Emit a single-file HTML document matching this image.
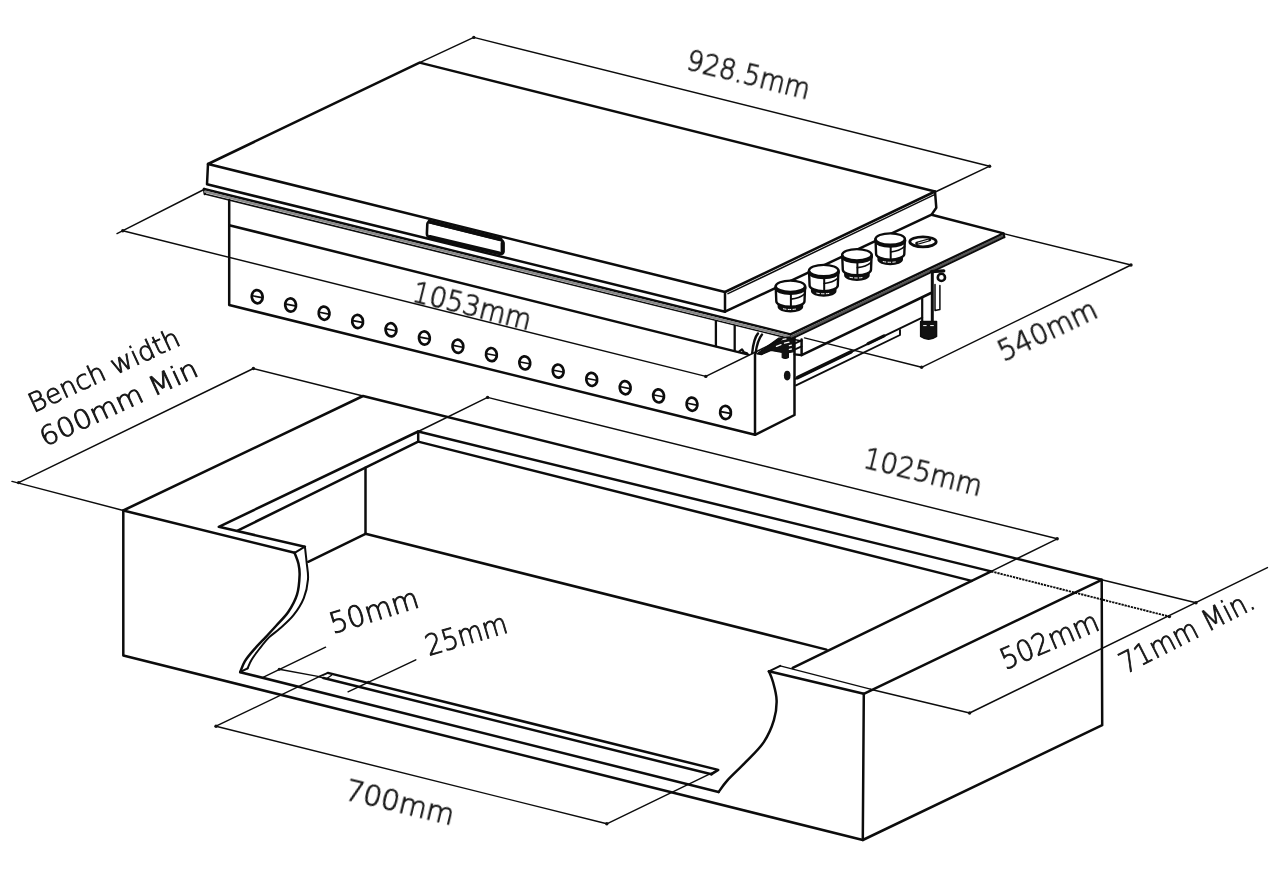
<!DOCTYPE html>
<html lang="en">
<head>
<meta charset="utf-8">
<title>Installation dimensions</title>
<style>
html,body{margin:0;padding:0;background:#fff;}
body{width:1280px;height:877px;overflow:hidden;}
svg{display:block;}
.ln path,.ln ellipse,.ln circle{fill:none;stroke:#0c0c0c;stroke-linecap:round;stroke-linejoin:round;}
.tx text{font-family:"DejaVu Sans Light","DejaVu Sans","Liberation Sans",sans-serif;font-weight:200;fill:#151515;stroke:#151515;stroke-width:0.9px;}
.tx{opacity:0.999;}
</style>
</head>
<body>
<svg width="1280" height="877" viewBox="0 0 1280 877">
<rect width="1280" height="877" fill="#fff"/>
<g class="ln">
<path d="M208.0 164.0 L419.6 62.6 L935.0 191.5 L725.0 292.0 Z" stroke-width="2.5" />
<path d="M208.0 164.0 L207.0 184.3 L725.0 311.7 L725.0 292.0" stroke-width="2.5" />
<path d="M725.0 311.7 L931.6 214.6 L936.3 207.8 L935.0 191.5" stroke-width="2.5" />
<path d="M728.0 293.6 L934.0 194.9" stroke-width="1.5" />
<path d="M204.0 189.0 L790.5 334.4" stroke-width="2.5" />
<path d="M204.8 194.0 L790.5 338.8" stroke-width="1.6" />
<path d="M204.0 189.0 L204.8 194.0" stroke-width="2.5" />
<path d="M205.0 191.6 L790.0 336.7" stroke-width="2.4" style="stroke:#8a8a8a"/>
<path d="M229.2 200.0 L229.2 305.0 L755.0 434.8 L755.0 354.5" stroke-width="2.5" />
<path d="M229.2 225.2 L748.4 354.6" stroke-width="2.5" />
<path d="M755.0 434.8 L794.5 415.0 L794.5 336.0" stroke-width="2.5" />
<path d="M715.9 321.5 L715.9 346.0" stroke-width="2.3" />
<path d="M734.7 326.0 L734.7 350.6" stroke-width="2.3" />
<path d="M739 351.6 L742 349.4 L744 352.4 L747 353.4" stroke-width="2.2"/>
<path d="M752.2 353 C753 345 754.5 337.5 758 333.4" stroke-width="2.4" />
<path d="M755.6 353.4 C756.6 346 758.4 339 762 334.6" stroke-width="2.4" />
<path d="M757 353.8 L778.5 338.2 L794 336.6 L794 351.6 L788.4 352.6 L788.4 357.6 Q785.3 359.4 782.2 357.6 L782.2 352.4 L771 350.4 L761.5 354.6 Z" style="fill:#111" stroke-width="1.2"/>
<path d="M781.5 339.6 L786 338.8 M784.5 343.2 L789 342.2 M776.5 346.4 L781 344.6 M789.4 345.6 L791.4 345.2 M789.4 349.4 L791.4 349.0" style="stroke:#fff" stroke-width="1.3"/>
<path d="M794.5 343.6 L801.6 340.4" stroke-width="1.8" />
<path d="M794.5 349.6 L801.6 346.4" stroke-width="1.8" />
<ellipse cx="787.2" cy="375.6" rx="3.3" ry="4.8" style="fill:#111;stroke:none"/>
<ellipse cx="257.2" cy="296.7" rx="5.4" ry="6.6" stroke-width="2.7" transform="rotate(-8 257.2 296.7)"/>
<path d="M252.6 295.8 L261.8 297.6" stroke-width="1.6" />
<ellipse cx="290.6" cy="305.0" rx="5.4" ry="6.6" stroke-width="2.7" transform="rotate(-8 290.6 305.0)"/>
<path d="M286.0 304.1 L295.2 305.9" stroke-width="1.6" />
<ellipse cx="324.1" cy="313.2" rx="5.4" ry="6.6" stroke-width="2.7" transform="rotate(-8 324.1 313.2)"/>
<path d="M319.5 312.3 L328.7 314.1" stroke-width="1.6" />
<ellipse cx="357.6" cy="321.5" rx="5.4" ry="6.6" stroke-width="2.7" transform="rotate(-8 357.6 321.5)"/>
<path d="M352.9 320.6 L362.2 322.4" stroke-width="1.6" />
<ellipse cx="391.0" cy="329.8" rx="5.4" ry="6.6" stroke-width="2.7" transform="rotate(-8 391.0 329.8)"/>
<path d="M386.4 328.9 L395.6 330.7" stroke-width="1.6" />
<ellipse cx="424.4" cy="338.0" rx="5.4" ry="6.6" stroke-width="2.7" transform="rotate(-8 424.4 338.0)"/>
<path d="M419.8 337.1 L429.1 338.9" stroke-width="1.6" />
<ellipse cx="457.9" cy="346.3" rx="5.4" ry="6.6" stroke-width="2.7" transform="rotate(-8 457.9 346.3)"/>
<path d="M453.3 345.4 L462.5 347.2" stroke-width="1.6" />
<ellipse cx="491.4" cy="354.6" rx="5.4" ry="6.6" stroke-width="2.7" transform="rotate(-8 491.4 354.6)"/>
<path d="M486.8 353.7 L496.0 355.5" stroke-width="1.6" />
<ellipse cx="524.8" cy="362.9" rx="5.4" ry="6.6" stroke-width="2.7" transform="rotate(-8 524.8 362.9)"/>
<path d="M520.2 362.0 L529.4 363.8" stroke-width="1.6" />
<ellipse cx="558.2" cy="371.1" rx="5.4" ry="6.6" stroke-width="2.7" transform="rotate(-8 558.2 371.1)"/>
<path d="M553.6 370.2 L562.9 372.0" stroke-width="1.6" />
<ellipse cx="591.7" cy="379.4" rx="5.4" ry="6.6" stroke-width="2.7" transform="rotate(-8 591.7 379.4)"/>
<path d="M587.1 378.5 L596.3 380.3" stroke-width="1.6" />
<ellipse cx="625.2" cy="387.7" rx="5.4" ry="6.6" stroke-width="2.7" transform="rotate(-8 625.2 387.7)"/>
<path d="M620.6 386.8 L629.8 388.6" stroke-width="1.6" />
<ellipse cx="658.6" cy="395.9" rx="5.4" ry="6.6" stroke-width="2.7" transform="rotate(-8 658.6 395.9)"/>
<path d="M654.0 395.0 L663.2 396.8" stroke-width="1.6" />
<ellipse cx="692.0" cy="404.2" rx="5.4" ry="6.6" stroke-width="2.7" transform="rotate(-8 692.0 404.2)"/>
<path d="M687.4 403.3 L696.6 405.1" stroke-width="1.6" />
<ellipse cx="725.5" cy="412.5" rx="5.4" ry="6.6" stroke-width="2.7" transform="rotate(-8 725.5 412.5)"/>
<path d="M720.9 411.6 L730.1 413.4" stroke-width="1.6" />
<path d="M429.8 222.2 L500.4 239.7 Q503.4 240.5 503.4 243.6 L503.4 251.2 Q503.4 254.6 500.2 253.8 L429.6 237.2 Q426.8 236.6 426.9 233.6 L427.3 224.2 Q427.4 221.6 429.8 222.2 Z" stroke-width="2.6" fill="#fff"/>
<path d="M429.5 221.6 L500.5 239.2" stroke-width="4.0" />
<path d="M430.0 236.8 L499.5 253.2" stroke-width="3.6" />
<path d="M502.6 243.0 L502.6 251.6" stroke-width="4.0" />
<path d="M931.6 214.8 L1003.6 233.4 L790.5 334.4" stroke-width="2.5" />
<path d="M1004.0 235.4 L791.6 336.6" stroke-width="2.4" style="stroke:#555"/>
<path d="M1004.4 237.2 L792.4 338.4" stroke-width="1.9" />
<path d="M1003.6 233.4 L1004.4 237.2" stroke-width="1.9" />
<path d="M801.6 339.5 L801.6 355.2 L931.0 293.0" stroke-width="2.5" />
<path d="M790.5 338.8 L801.6 341.0" stroke-width="1.5" />
<path d="M794.5 354.4 L801.6 355.2" stroke-width="2.2" />
<path d="M795.5 378.8 L922.2 317.6" stroke-width="1.9" />
<path d="M796.0 385.4 L900.0 335.0 L900.0 330.0" stroke-width="1.9" />
<path d="M797.5 377.6 L851.0 351.8" stroke-width="3.6" />
<path d="M868.0 343.6 L884.0 335.9" stroke-width="3.2" />
<path d="M922.2 298.0 L922.2 321.5" stroke-width="2.2" />
<path d="M932.3 272.5 L932.3 322.0" stroke-width="3.0" />
<path d="M935.0 284.5 L935.0 310.6 L939.9 309.4 L939.9 285.5" stroke-width="1.5" />
<path d="M931.5 271.6 L943.8 270.8" stroke-width="3.2"/>
<circle cx="941.4" cy="277.4" r="3.6" stroke-width="2.6"/>
<path d="M920.6 321.5 L936.6 321.5 L936.6 336.4 Q928.6 342 920.6 336.4 Z" style="fill:#111" stroke-width="1.4"/>
<path d="M923.6 325.6 L926.2 325.6 M930.6 325.6 L933.4 325.6" style="stroke:#fff" stroke-width="1.0"/>
<path d="M778.4 302.2 L778.4 306.8 A12 4.8 0 0 0 802.4 306.8 L802.4 302.2 Z" style="fill:#111" stroke-width="1.6"/>
<path d="M783.4 308.8 Q790.4 310.2 797.4 308.8" style="stroke:#fff" stroke-width="1.0" stroke-dasharray="2.6 2.2"/>
<path d="M775.7 286.2 L776.3 301.2 A14.1 5.6 0 0 0 804.5 301.2 L805.1 286.2 Z" style="fill:#fff" stroke-width="2.4"/>
<ellipse cx="790.4" cy="286.2" rx="14.7" ry="5.6" style="fill:#fff" stroke-width="2.3"/>
<path d="M775.7 287.8 A14.7 5.6 0 0 0 805.1 287.8" stroke-width="3.0"/>
<path d="M790.9 294.3 L790.9 306.0" stroke-width="2.0" />
<path d="M790.9 299.2 Q799.4 298.2 804.7 293.8" stroke-width="1.7"/>
<path d="M811.7 286.5 L811.7 291.1 A12 4.8 0 0 0 835.7 291.1 L835.7 286.5 Z" style="fill:#111" stroke-width="1.6"/>
<path d="M816.7 293.1 Q823.7 294.5 830.7 293.1" style="stroke:#fff" stroke-width="1.0" stroke-dasharray="2.6 2.2"/>
<path d="M809.0 270.5 L809.6 285.5 A14.1 5.6 0 0 0 837.8 285.5 L838.4 270.5 Z" style="fill:#fff" stroke-width="2.4"/>
<ellipse cx="823.7" cy="270.5" rx="14.7" ry="5.6" style="fill:#fff" stroke-width="2.3"/>
<path d="M809.0 272.1 A14.7 5.6 0 0 0 838.4 272.1" stroke-width="3.0"/>
<path d="M824.2 278.6 L824.2 290.3" stroke-width="2.0" />
<path d="M824.2 283.5 Q832.7 282.5 838.0 278.1" stroke-width="1.7"/>
<path d="M844.9 270.7 L844.9 275.3 A12 4.8 0 0 0 868.9 275.3 L868.9 270.7 Z" style="fill:#111" stroke-width="1.6"/>
<path d="M849.9 277.3 Q856.9 278.7 863.9 277.3" style="stroke:#fff" stroke-width="1.0" stroke-dasharray="2.6 2.2"/>
<path d="M842.2 254.7 L842.8 269.7 A14.1 5.6 0 0 0 871.0 269.7 L871.6 254.7 Z" style="fill:#fff" stroke-width="2.4"/>
<ellipse cx="856.9" cy="254.7" rx="14.7" ry="5.6" style="fill:#fff" stroke-width="2.3"/>
<path d="M842.2 256.3 A14.7 5.6 0 0 0 871.6 256.3" stroke-width="3.0"/>
<path d="M857.4 262.8 L857.4 274.5" stroke-width="2.0" />
<path d="M857.4 267.7 Q865.9 266.7 871.2 262.3" stroke-width="1.7"/>
<path d="M878.2 255.0 L878.2 259.6 A12 4.8 0 0 0 902.2 259.6 L902.2 255.0 Z" style="fill:#111" stroke-width="1.6"/>
<path d="M883.2 261.6 Q890.2 263.0 897.2 261.6" style="stroke:#fff" stroke-width="1.0" stroke-dasharray="2.6 2.2"/>
<path d="M875.5 239.0 L876.1 254.0 A14.1 5.6 0 0 0 904.3 254.0 L904.9 239.0 Z" style="fill:#fff" stroke-width="2.4"/>
<ellipse cx="890.2" cy="239.0" rx="14.7" ry="5.6" style="fill:#fff" stroke-width="2.3"/>
<path d="M875.5 240.6 A14.7 5.6 0 0 0 904.9 240.6" stroke-width="3.0"/>
<path d="M890.7 247.1 L890.7 258.8" stroke-width="2.0" />
<path d="M890.7 252.0 Q899.2 251.0 904.5 246.6" stroke-width="1.7"/>
<ellipse cx="923" cy="241.8" rx="13.2" ry="5.0" stroke-width="2.8"/>
<path d="M916.8 243.4 L929.6 239.8" stroke-width="3.2" />
<path d="M918.2 243.0 L928.2 240.2" style="stroke:#fff" stroke-width="0.9"/>
<path d="M294.6 552.8 L123.3 510.5 L363.0 396.0 L1101.7 579.8 L863.8 693.8 L768.9 671.3" stroke-width="2.5" />
<path d="M123.3 510.5 L123.3 655.5 L862.8 840.0 L1102.2 725.2 L1101.7 579.8" stroke-width="2.5" />
<path d="M863.8 693.8 L862.8 840.0" stroke-width="2.5" />
<path d="M304.9 546.7 L218.8 526.8 L418.2 431.5 L991.2 571.4 L792.7 667.9" stroke-width="2.5" />
<path d="M237.6 530.6 L418.2 441.6 L971.6 580.9" stroke-width="2.5" />
<path d="M418.2 431.5 L418.2 441.6" stroke-width="2.5" />
<path d="M365.5 467.8 L365.5 533.8" stroke-width="2.5" />
<path d="M308.2 561.8 L365.5 533.8 L826.5 649.6" stroke-width="2.5" />
<path d="M294.6 552.8 C295.2 554.6 297.6 559.8 298.4 563.5 C299.2 567.2 299.8 569.8 299.6 575.0 C299.4 580.2 298.9 588.6 297.0 594.7 C295.1 600.8 291.8 606.7 288.4 611.8 C285.0 616.9 280.1 621.4 276.4 625.5 C272.7 629.6 269.9 632.6 266.2 636.6 C262.5 640.6 257.8 645.3 254.2 649.4 C250.6 653.5 247.1 657.6 244.8 661.4 C242.5 665.2 241.0 670.2 240.2 672.0" stroke-width="2.5" />
<path d="M304.9 546.7 C305.2 549.3 306.1 556.8 306.6 562.2 C307.1 567.6 308.5 573.3 308.0 579.3 C307.5 585.3 306.2 592.1 303.8 598.1 C301.4 604.1 297.5 610.1 293.5 615.2 C289.5 620.3 283.9 624.9 279.8 628.6 C275.7 632.3 272.4 634.0 269.0 637.4 C265.6 640.8 262.2 645.3 259.3 649.0 C256.4 652.7 253.6 656.5 251.6 659.7 C249.6 662.9 248.3 667.0 247.6 668.4" stroke-width="2.0" />
<path d="M294.6 552.8 L304.9 546.7" stroke-width="2.0" />
<path d="M240.2 672.0 L247.6 668.4" stroke-width="2.0" />
<path d="M240.2 672.2 L718.6 792.0" stroke-width="2.5" />
<path d="M718.6 792.0 C720.1 790.1 722.9 785.4 727.4 780.4 C731.9 775.4 739.5 768.6 745.6 762.2 C751.7 755.8 759.1 749.1 763.8 742.1 C768.5 735.1 771.8 727.2 773.9 720.2 C776.0 713.2 776.8 706.6 776.6 700.2 C776.5 693.8 774.3 686.8 773.0 682.0 C771.7 677.2 769.6 673.1 768.9 671.3" stroke-width="2.5" />
<path d="M768.9 671.3 L780.2 665.9" stroke-width="2.0" />
<path d="M780.2 665.9 L870.4 689.2" stroke-width="1.3" />
<path d="M327.9 672.9 L718.2 769.9 L711.5 774.3" stroke-width="2.5" />
<path d="M323.5 678.0 L711.5 774.3" stroke-width="2.5" />
<path d="M323.5 678.0 L319.2 676.6 L327.9 672.9" stroke-width="1.8" />
<path d="M331.5 675.3 L326.5 678.8" stroke-width="1.4" />
<path d="M419.6 62.6 L473.8 37.4" stroke-width="1.45" />
<path d="M473.8 37.4 L989.6 166.2" stroke-width="1.45" />
<path d="M935.2 192.0 L989.6 166.2" stroke-width="1.45" />
<circle cx="473.8" cy="37.4" r="1.7" style="fill:#111;stroke:none"/>
<circle cx="989.6" cy="166.2" r="1.7" style="fill:#111;stroke:none"/>
<path d="M204.0 189.5 L117.0 233.6" stroke-width="1.45" />
<path d="M122.8 230.8 L705.8 376.4" stroke-width="1.45" />
<path d="M705.8 376.4 L782.0 339.0" stroke-width="1.45" />
<circle cx="122.8" cy="230.8" r="1.7" style="fill:#111;stroke:none"/>
<circle cx="705.8" cy="376.4" r="1.7" style="fill:#111;stroke:none"/>
<path d="M1003.6 233.6 L1131.0 265.0" stroke-width="1.45" />
<path d="M1131.0 265.0 L921.6 367.3" stroke-width="1.45" />
<path d="M804.5 337.9 L921.6 367.3" stroke-width="1.45" />
<circle cx="1131.0" cy="265.0" r="1.7" style="fill:#111;stroke:none"/>
<circle cx="921.6" cy="367.3" r="1.7" style="fill:#111;stroke:none"/>
<path d="M363.0 396.0 L253.4 368.5" stroke-width="1.45" />
<path d="M253.4 368.5 L18.6 482.6" stroke-width="1.45" />
<path d="M12.0 481.4 L123.3 510.5" stroke-width="1.45" />
<circle cx="253.4" cy="368.5" r="1.7" style="fill:#111;stroke:none"/>
<circle cx="18.6" cy="482.6" r="1.7" style="fill:#111;stroke:none"/>
<path d="M418.2 431.5 L487.6 397.4" stroke-width="1.45" />
<path d="M487.6 397.4 L1057.2 538.8" stroke-width="1.45" />
<path d="M1057.2 538.8 L991.2 571.4" stroke-width="1.45" />
<circle cx="487.6" cy="397.4" r="1.7" style="fill:#111;stroke:none"/>
<circle cx="1057.2" cy="538.8" r="1.7" style="fill:#111;stroke:none"/>
<path d="M991.2 571.4 L1169.4 616.6" stroke-width="1.9" style="stroke-linecap:butt;stroke-dasharray:2.3 0.9"/>
<path d="M1101.7 579.8 L1196.0 602.8" stroke-width="1.45" />
<path d="M969.6 713.0 L1267.4 567.6" stroke-width="1.45" />
<path d="M870.4 689.2 L969.6 713.0" stroke-width="1.45" />
<circle cx="1169.4" cy="616.6" r="1.7" style="fill:#111;stroke:none"/>
<circle cx="1196.0" cy="602.8" r="1.7" style="fill:#111;stroke:none"/>
<circle cx="969.6" cy="713.0" r="1.7" style="fill:#111;stroke:none"/>
<path d="M319.2 676.6 L216.0 726.2" stroke-width="1.45" />
<path d="M216.0 726.2 L606.8 823.8" stroke-width="1.45" />
<path d="M606.8 823.8 L718.2 769.9" stroke-width="1.45" />
<circle cx="216.0" cy="726.2" r="1.7" style="fill:#111;stroke:none"/>
<circle cx="606.8" cy="823.8" r="1.7" style="fill:#111;stroke:none"/>
<path d="M263.0 677.4 L325.6 647.2" stroke-width="1.45" />
<path d="M279.2 669.2 L319.2 676.6" stroke-width="1.45" />
<circle cx="279.2" cy="669.2" r="1.5" style="fill:#111;stroke:none"/>
<path d="M348.0 691.8 L415.8 659.8" stroke-width="1.45" />
<circle cx="368.4" cy="682.2" r="1.5" style="fill:#111;stroke:none"/>
</g>
<g class="tx">
<text x="685.0" y="69.1" transform="rotate(13.90 685.0 69.1)" font-size="29" textLength="126.1" lengthAdjust="spacingAndGlyphs">928.5mm</text>
<text x="411.0" y="300.6" transform="rotate(13.90 411.0 300.6)" font-size="29" textLength="121.2" lengthAdjust="spacingAndGlyphs">1053mm</text>
<text x="1003.5" y="361.9" transform="rotate(-25.40 1003.5 361.9)" font-size="29" textLength="106.5" lengthAdjust="spacingAndGlyphs">540mm</text>
<text x="33.5" y="413.0" transform="rotate(-24.80 33.5 413.0)" font-size="26.5" textLength="163.5" lengthAdjust="spacingAndGlyphs">Bench width</text>
<text x="44.8" y="446.9" transform="rotate(-24.80 44.8 446.9)" font-size="26.5" textLength="171.0" lengthAdjust="spacingAndGlyphs">600mm Min</text>
<text x="861.9" y="467.0" transform="rotate(13.90 861.9 467.0)" font-size="29" textLength="121.0" lengthAdjust="spacingAndGlyphs">1025mm</text>
<text x="1005.2" y="670.0" transform="rotate(-23.00 1005.2 670.0)" font-size="29" textLength="104.2" lengthAdjust="spacingAndGlyphs">502mm</text>
<text x="1125.5" y="674.2" transform="rotate(-27.00 1125.5 674.2)" font-size="29" textLength="147.5" lengthAdjust="spacingAndGlyphs">71mm Min.</text>
<text x="333.0" y="634.0" transform="rotate(-17.20 333.0 634.0)" font-size="29" textLength="91.8" lengthAdjust="spacingAndGlyphs">50mm</text>
<text x="428.8" y="656.0" transform="rotate(-16.50 428.8 656.0)" font-size="29" textLength="84.0" lengthAdjust="spacingAndGlyphs">25mm</text>
<text x="343.7" y="798.9" transform="rotate(13.60 343.7 798.9)" font-size="29" textLength="111.2" lengthAdjust="spacingAndGlyphs">700mm</text>
</g>
</svg>
</body>
</html>
